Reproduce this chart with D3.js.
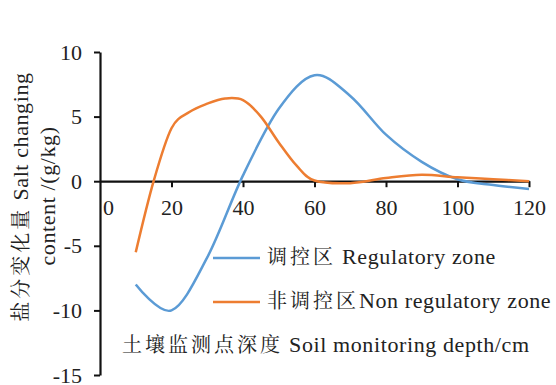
<!DOCTYPE html>
<html>
<head>
<meta charset="utf-8">
<script src="https://cdn.jsdelivr.net/npm/d3@7"></script>
<style>
  body { margin: 0; background: #fff; }
  svg { display: block; }
</style>
</head>
<body>
<svg id="chart" width="556" height="385"></svg>
<script>
// regulatory zone: depth (cm) and salt change (g/kg)
const regDepths = [10, 20, 30, 40, 50, 60, 70, 80, 90, 100, 110, 120];
const regulatory = [-8.0, -10.0, -5.9, 0.45, 5.6, 8.2, 6.6, 3.6, 1.5, 0.15, -0.3, -0.6];
// non regulatory zone, read at finer steps
const nonRegDepths = [10, 15, 20, 25, 30, 35, 40, 45, 50, 55, 60, 70, 80, 90, 100, 110, 120];
const nonRegulatory = [-5.5, 0.0, 4.1, 5.35, 6.0, 6.4, 6.27, 5.0, 3.0, 1.2, 0.05, -0.15, 0.25, 0.5, 0.3, 0.15, 0.0];

const xTicks = [0, 20, 40, 60, 80, 100, 120];
const yTicks = [10, 5, 0, -5, -10, -15];

const seriesNames = [
  ["调控区", " Regulatory zone"],
  ["非调控区", "Non regulatory zone"]
];
const colors = ["#5b9bd5", "#ed7d31"];

const LAT = '"Liberation Serif", "Times New Roman", serif';
const CJK = '"Noto Serif CJK SC", "Noto Sans CJK SC", serif';
const ink = "#222";

const svg = d3.select("#chart");

const x = d3.scaleLinear().domain([0, 120]).range([100, 529]);
const y = d3.scaleLinear().domain([-15, 10]).range([375, 52]);

// y axis
const yg = svg.append("g").attr("transform", `translate(${x(0)},0)`)
  .call(d3.axisLeft(y).tickValues(yTicks).tickSize(6).tickSizeOuter(0).tickPadding(12).tickFormat(d => String(d)));
yg.select(".domain").attr("stroke", "#111").attr("stroke-width", 2.2);
yg.selectAll(".tick line").attr("stroke", "#111").attr("stroke-width", 2);
yg.selectAll("text").style("font-family", LAT).style("font-size", "22px").attr("fill", ink);

// x axis sits on zero
const xg = svg.append("g").attr("transform", `translate(0,${y(0)})`)
  .call(d3.axisBottom(x).tickValues(xTicks).tickSize(6).tickSizeOuter(0).tickPadding(12).tickFormat(d => String(d)));
xg.select(".domain").attr("stroke", "#111").attr("stroke-width", 2.2);
xg.selectAll(".tick line").attr("stroke", "#111").attr("stroke-width", 2);
xg.selectAll("text").style("font-family", LAT).style("font-size", "22px").attr("fill", ink);
// the 0 label is pushed off the y axis
xg.selectAll(".tick").filter(d => d === 0).select("line").remove();
xg.selectAll(".tick").filter(d => d === 0).select("text").attr("dx", 8);

// smoothed lines, excel style
const line = d3.line()
  .x(d => x(d[0]))
  .y(d => y(d[1]))
  .curve(d3.curveCatmullRom.alpha(0));

const series = [
  d3.zip(regDepths, regulatory),
  d3.zip(nonRegDepths, nonRegulatory)
];

series.forEach((s, i) => {
  svg.append("path")
    .datum(s)
    .attr("d", line)
    .attr("fill", "none")
    .attr("stroke", colors[i])
    .attr("stroke-width", 2.5);
});

// text with a CJK part and a latin part
function mixed(t, cjk, lat) {
  t.attr("fill", ink);
  t.append("tspan").style("font-family", CJK).style("font-size", "20px")
    .style("letter-spacing", "3px").text(cjk);
  t.append("tspan").style("font-family", LAT).style("font-size", "22px")
    .style("letter-spacing", "0.6px").text(lat);
}

// legend
const legendY = [y(-5.95), y(-9.35)];
seriesNames.forEach((nm, i) => {
  const g = svg.append("g").attr("transform", `translate(213,${legendY[i]})`);
  g.append("line").attr("x1", 0).attr("x2", 47).attr("stroke", colors[i]).attr("stroke-width", 2.5);
  mixed(g.append("text").attr("x", 54).attr("dy", "0.35em"), nm[0], nm[1]);
});

// x axis title
mixed(svg.append("text").attr("x", 122).attr("y", 346).attr("dy", "0.35em"),
  "土壤监测点深度", " Soil monitoring depth/cm");

// y axis title
mixed(svg.append("text").attr("transform", "translate(22,197) rotate(-90)")
  .attr("text-anchor", "middle").attr("dy", "0.35em"), "盐分变化量", " Salt changing");
svg.append("text").attr("transform", "translate(47,196) rotate(-90)")
  .attr("text-anchor", "middle").attr("dy", "0.35em").attr("fill", ink)
  .style("font-family", LAT).style("font-size", "22px").style("letter-spacing", "0.6px")
  .text("content /(g/kg)");
</script>
</body>
</html>
